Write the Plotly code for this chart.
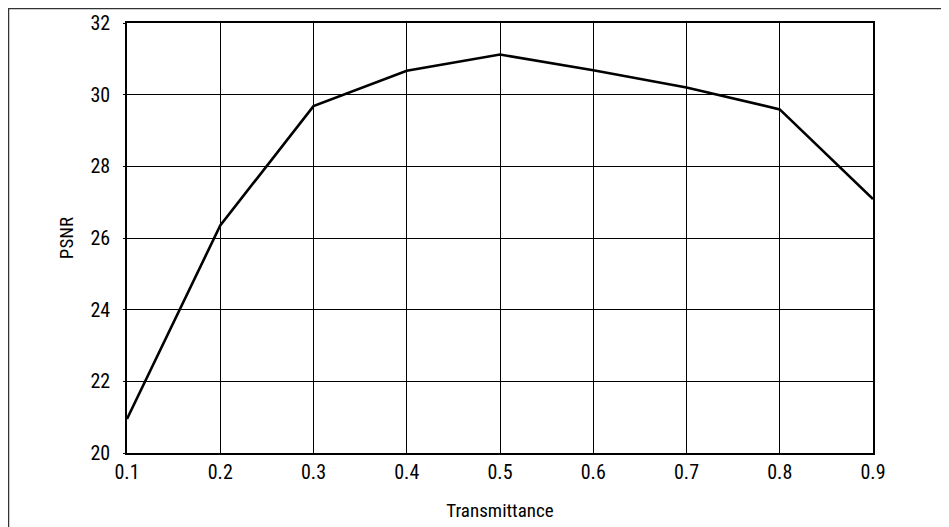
import plotly.graph_objects as go

transmittance = [0.1, 0.2, 0.3, 0.4, 0.5, 0.6, 0.7, 0.8, 0.9]
psnr = [20.95, 26.35, 29.68, 30.67, 31.12, 30.68, 30.2, 29.59, 27.09]
x_ticks = [0.1, 0.2, 0.3, 0.4, 0.5, 0.6, 0.7, 0.8, 0.9]
y_ticks = [20, 22, 24, 26, 28, 30, 32]

FONT = "Roboto Condensed, Open Sans Condensed, sans-serif"

fig = go.Figure()
fig.add_trace(go.Scatter(x=transmittance, y=psnr, mode="lines",
                         line=dict(color="black", width=2.6), showlegend=False))

# page body has an 8px margin; size the figure so the plot area lands where the reference has it
W, H = 941, 519
L, R, T, B = 119, 76, 15, 74
pw, ph = W - L - R, H - T - B

fig.update_layout(
    width=W, height=H,
    margin=dict(l=L, r=R, t=T, b=B, pad=0),
    paper_bgcolor="white", plot_bgcolor="white",
    font=dict(family=FONT, size=20, color="black"),
    xaxis=dict(range=[0.1, 0.9], tickvals=x_ticks, ticktext=[str(v) for v in x_ticks],
               showgrid=True, gridcolor="black", gridwidth=1,
               showline=True, linecolor="black", linewidth=1.5, mirror=True,
               zeroline=False, ticks="", ticklen=0, automargin=False,
               title=dict(text="Transmittance", font=dict(size=19), standoff=21),
               tickfont=dict(size=20, family=FONT)),
    yaxis=dict(range=[20, 32], tickvals=y_ticks, ticktext=[str(v) for v in y_ticks],
               showgrid=True, gridcolor="black", gridwidth=1,
               showline=True, linecolor="black", linewidth=1.5, mirror=True,
               zeroline=False, ticks="outside", ticklen=2, tickcolor="black",
               ticklabelstandoff=9, automargin=False,
               title=dict(text="PSNR", font=dict(size=19), standoff=12),
               tickfont=dict(size=20, family=FONT)),
)

# outer frame around the figure (open at right and bottom, as in the reference)
fig.add_shape(type="rect", xref="paper", yref="paper",
              x0=(0 - L) / pw, x1=(1000 - L) / pw,
              y0=(H - B - 560) / ph, y1=1 + (T - 0) / ph,
              line=dict(color="#333333", width=2.5), layer="below")

fig.write_html("out.html")
